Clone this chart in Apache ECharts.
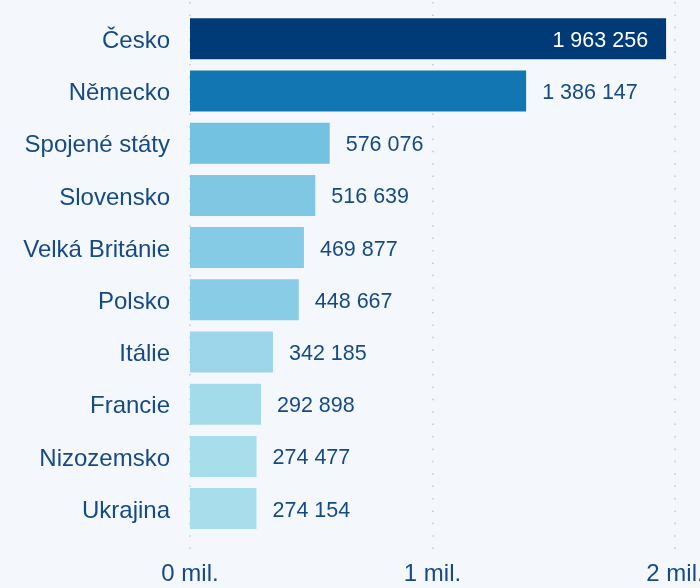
<!DOCTYPE html>
<html>
<head>
<meta charset="utf-8">
<script src="https://cdn.jsdelivr.net/npm/echarts@6/dist/echarts.min.js"></script>
<style>
html,body{margin:0;padding:0;background:#f4f8fc;}
#chart{width:700px;height:588px;}
</style>
</head>
<body>
<div id="chart"></div>
<script>
const categories = ['Česko','Německo','Spojené státy','Slovensko','Velká Británie','Polsko','Itálie','Francie','Nizozemsko','Ukrajina'];
const values = [1963256,1386147,576076,516639,469877,448667,342185,292898,274477,274154];
const barColors = ['#003b77','#1176b2','#74c2e1','#7fc7e3','#85cbe5','#89cce6','#9dd6ea','#a4dbeb','#a8deeb','#a8deeb'];
const tickLabels = ['0 mil.','1 mil.','2 mil.'];

const textColor = '#154a86';
const fontFamily = '"Liberation Sans", Arial, sans-serif';
function fmt(v){ return String(v).replace(/\B(?=(\d{3})+(?!\d))/g,' '); }

const data = values.map((v,i)=>({
  value: v,
  itemStyle: {color: barColors[i]},
  label: i===0 ? {position:'insideRight', distance:18, color:'#ffffff'} : {position:'right', distance:16, color:textColor}
}));

const chart = echarts.init(document.getElementById('chart'), null, {renderer:'canvas'});
chart.setOption({
  backgroundColor:'#f4f8fc',
  animation:false,
  grid:[
    {left:190, right:25, top:12.7, height:522, containLabel:false, outerBoundsMode:'none'},
    {left:190, right:25, top:2, bottom:37, containLabel:false, outerBoundsMode:'none'}
  ],
  xAxis:[
    {gridIndex:0, type:'value', min:0, max:2000000, interval:1000000,
     axisLine:{show:false}, axisTick:{show:false}, axisLabel:{show:false}, splitLine:{show:false}},
    {gridIndex:1, type:'value', min:0, max:2000000, interval:1000000,
     axisLine:{show:false}, axisTick:{show:false},
     axisLabel:{show:true, margin:11, color:textColor, fontSize:24, fontFamily:fontFamily,
       formatter:(v)=>tickLabels[Math.round(v/1000000)]},
     splitLine:{show:true, lineStyle:{color:'#c4c8cc', width:1.5, type:[1.5,10.9]}}}
  ],
  yAxis:[
    {gridIndex:0, type:'category', data:categories, inverse:true,
     axisLine:{show:false}, axisTick:{show:false},
     axisLabel:{margin:20, color:textColor, fontSize:24, fontFamily:fontFamily,
       formatter:(v)=>'{c|'+v+'}',
       rich:{c:{color:textColor, fontSize:24, fontFamily:fontFamily, padding:[5,0,0,0]}}}},
    {gridIndex:1, type:'category', data:[''], show:false}
  ],
  series:[{
    type:'bar', xAxisIndex:0, yAxisIndex:0,
    barCategoryGap:'21.5%',
    data:data,
    z:3,
    label:{show:true, fontSize:21.5, fontFamily:fontFamily, offset:[0,2], formatter:(p)=>fmt(p.value)}
  }]
});
</script>
</body>
</html>
